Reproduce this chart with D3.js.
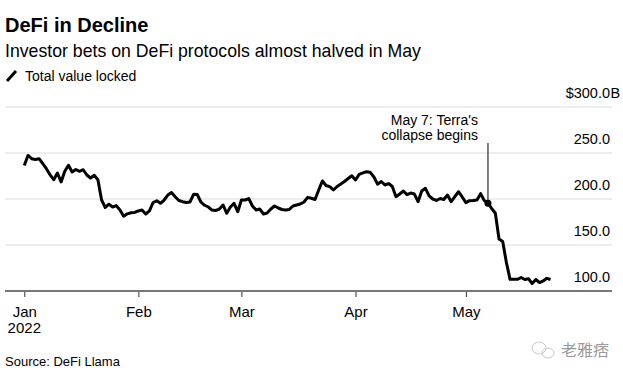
<!DOCTYPE html>
<html>
<head>
<meta charset="utf-8">
<script src="https://cdn.jsdelivr.net/npm/d3@7"></script>
<style>
  body { margin: 0; background: #fff; }
  svg { display: block; font-family: "Liberation Sans", Arial, sans-serif; }
</style>
</head>
<body>
<div id="chart"></div>
<script>
// data (Total value locked, $B)
const startDay = new Date(2022, 0, 1);
const endDay = new Date(2022, 4, 25);
const dates = d3.timeDay.range(startDay, endDay);
const tvl = [
  236.4, 247.3, 243.8, 243.0, 243.8, 238.6, 232.9, 226.3, 221.0, 228.3,
  218.5, 230.1, 236.6, 229.3, 232.1, 230.1, 231.8, 226.1, 222.8, 225.8,
  221.0, 198.9, 190.8, 194.3, 191.3, 192.8, 188.0, 181.2, 183.9, 185.1,
  185.4, 187.0, 188.0, 183.7, 187.0, 196.2, 198.0, 195.3, 198.9, 204.3,
  207.1, 202.5, 198.4, 197.1, 196.2, 196.7, 205.1, 204.9, 196.7, 193.2,
  191.3, 188.0, 187.5, 189.1, 193.5, 184.5, 191.3, 195.3, 186.2, 198.9,
  198.9, 200.5, 192.4, 188.0, 189.1, 183.7, 184.8, 189.1, 192.4, 190.2,
  188.6, 188.0, 188.6, 192.4, 193.5, 194.6, 196.7, 201.8, 200.8, 199.5,
  209.8, 219.6, 214.7, 213.4, 209.8, 213.6, 216.3, 219.0, 222.3, 225.2,
  220.7, 226.8, 228.3, 229.7, 229.0, 223.9, 216.1, 219.0, 215.2, 216.8,
  213.6, 202.5, 205.4, 208.7, 204.7, 206.5, 205.4, 197.1, 208.7, 211.6,
  203.3, 200.0, 198.4, 200.5, 199.5, 204.3, 197.1, 202.7, 207.9, 202.2,
  196.0, 198.2, 198.4, 198.9, 205.8, 198.2, 195.3, 189.7, 184.5, 156.5,
  153.8, 131.0, 112.7, 112.7, 112.7, 114.7, 112.5, 113.3, 108.2, 112.5,
  109.2, 110.9, 113.8, 112.5
];
const yTicks = [100, 150, 200, 250, 300];
const monthTicks = [new Date(2022, 0, 1), new Date(2022, 1, 1), new Date(2022, 2, 1), new Date(2022, 3, 1), new Date(2022, 4, 1)];
const eventDate = new Date(2022, 4, 7);
const eventLines = ["May 7: Terra's", "collapse begins"];

const width = 623;
const height = 376;
const left = 5, right = 612;

const data = dates.map((d, i) => ({ date: d, value: tvl[i] }));

const x = d3.scaleTime()
  .domain([new Date(2022, 0, 1), new Date(2022, 5, 1)])
  .range([24.3, 24.3 + 151 * 3.68]);
const y = d3.scaleLinear().domain([100, 300]).range([291, 107]);

const svg = d3.select('#chart').append('svg')
  .attr('width', width)
  .attr('height', height);

// headings
svg.append('text').text('DeFi in Decline')
  .attr('x', 5).attr('y', 32)
  .style('font-size', '20px').style('font-weight', 'bold');
svg.append('text').text('Investor bets on DeFi protocols almost halved in May')
  .attr('x', 5).attr('y', 57)
  .style('font-size', '17.7px');

// legend
svg.append('line')
  .attr('x1', 7).attr('y1', 81).attr('x2', 16).attr('y2', 71)
  .attr('stroke', '#000').attr('stroke-width', 3);
svg.append('text').text('Total value locked')
  .attr('x', 25).attr('y', 81)
  .style('font-size', '14px');

// grid + y labels
svg.append('g').selectAll('line')
  .data(yTicks.filter(t => t > 100))
  .enter().append('line')
  .attr('x1', left).attr('x2', right)
  .attr('y1', d => y(d)).attr('y2', d => y(d))
  .attr('stroke', '#dcdcdc').attr('stroke-width', 1);

svg.append('g').selectAll('text')
  .data(yTicks)
  .enter().append('text')
  .attr('x', 610)
  .attr('y', d => y(d) - 9)
  .attr('text-anchor', 'end')
  .style('font-size', '14.5px')
  .text(d => d === 300 ? '$' + d.toFixed(1) : d.toFixed(1));
svg.append('text').text('B')
  .attr('x', 610.5).attr('y', y(300) - 9)
  .style('font-size', '14.5px');

// x axis
const xAxis = d3.axisBottom(x)
  .tickValues(monthTicks)
  .tickSize(6)
  .tickFormat(d3.timeFormat('%b'));
const gx = svg.append('g')
  .attr('transform', `translate(0,${y(100)})`)
  .call(xAxis);
gx.select('.domain').remove();
gx.selectAll('.tick line').attr('stroke', '#333').attr('stroke-width', 1);
gx.selectAll('.tick text')
  .attr('y', 26).attr('dy', 0)
  .style('font-size', '15px')
  .style('font-family', '"Liberation Sans", Arial, sans-serif')
  .attr('fill', '#000');
svg.append('line')
  .attr('x1', left).attr('x2', right)
  .attr('y1', y(100)).attr('y2', y(100))
  .attr('stroke', '#777').attr('stroke-width', 2);
svg.append('text').text('2022')
  .attr('x', x(monthTicks[0])).attr('y', 333)
  .attr('text-anchor', 'middle')
  .style('font-size', '15px');

// the line
const line = d3.line()
  .x(d => x(d.date))
  .y(d => y(d.value));
svg.append('path')
  .datum(data)
  .attr('fill', 'none')
  .attr('stroke', '#000')
  .attr('stroke-width', 3)
  .attr('stroke-linejoin', 'round')
  .attr('d', line);

// annotation
const ev = data.find(d => +d.date === +eventDate);
svg.append('line')
  .attr('x1', x(eventDate)).attr('x2', x(eventDate))
  .attr('y1', 143).attr('y2', y(ev.value))
  .attr('stroke', '#000').attr('stroke-width', 1);
svg.append('circle')
  .attr('cx', x(eventDate)).attr('cy', y(ev.value))
  .attr('r', 3.5).attr('fill', '#000');
svg.append('g').selectAll('text')
  .data(eventLines)
  .enter().append('text')
  .attr('x', x(eventDate) - 10)
  .attr('y', (d, i) => 125 + i * 15)
  .attr('text-anchor', 'end')
  .style('font-size', '14px')
  .text(d => d);

// source + watermark
svg.append('text').text('Source: DeFi Llama')
  .attr('x', 5).attr('y', 366)
  .style('font-size', '13px');
const wm = svg.append('g').attr('fill', 'none').attr('stroke', '#c8c8c8').attr('stroke-width', 1);
wm.append('ellipse').attr('cx', 539).attr('cy', 348).attr('rx', 7).attr('ry', 6);
wm.append('ellipse').attr('cx', 548).attr('cy', 353).attr('rx', 6).attr('ry', 5);
svg.append('text').text('老雅痞')
  .attr('x', 609).attr('y', 356)
  .attr('text-anchor', 'end')
  .attr('fill', '#9a9a9a')
  .style('font-family', '"Noto Sans CJK SC", sans-serif')
  .style('font-size', '16px');
</script>
</body>
</html>
